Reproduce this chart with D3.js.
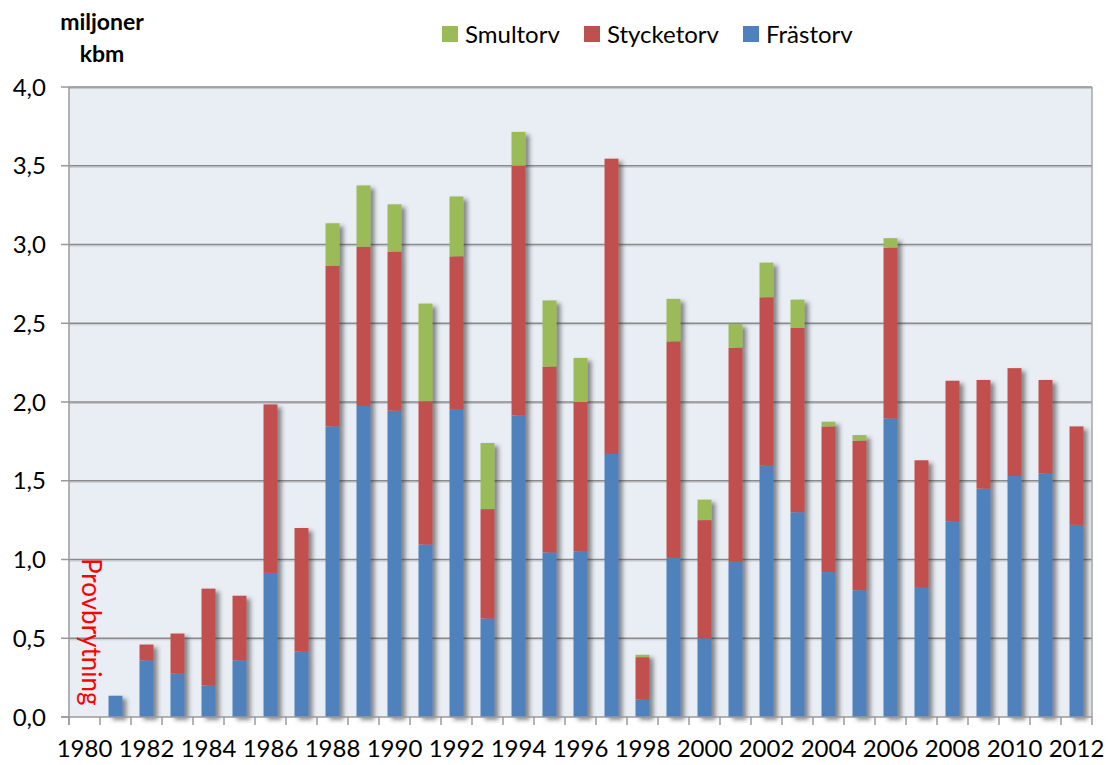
<!DOCTYPE html>
<html>
<head>
  <meta charset="UTF-8">
  <title>Torvproduktion</title>
  <script src="https://d3js.org/d3.v7.min.js"></script>
  <style>
    body { margin: 0; background: #fff; }
    svg { display: block; font-family: Lato, "Noto Sans", sans-serif; }
    .ytick text, .xlab text { font-size: 24px; fill: #000; }
    .legend text { font-size: 24px; fill: #000; }
  </style>
</head>
<body>
  <svg id="chart" width="1108" height="765"></svg>

  <script>
    // data, miljoner kbm
    var years = d3.range(1980, 2013);
    var frastorv = [0, 0.135, 0.36, 0.275, 0.20, 0.36, 0.915, 0.415, 1.845, 1.975, 1.945, 1.095, 1.955, 0.625,
      1.915, 1.045, 1.05, 1.67, 0.11, 1.01, 0.50, 0.985, 1.595, 1.30, 0.92, 0.805, 1.895, 0.82, 1.24, 1.45,
      1.53, 1.545, 1.22];
    var stycketorv = [0, 0, 0.10, 0.255, 0.615, 0.41, 1.07, 0.785, 1.02, 1.01, 1.01, 0.91, 0.97, 0.695,
      1.585, 1.18, 0.95, 1.875, 0.27, 1.375, 0.75, 1.36, 1.07, 1.17, 0.925, 0.95, 1.085, 0.81, 0.895, 0.69,
      0.685, 0.595, 0.625];
    var smultorv = [0, 0, 0, 0, 0, 0, 0, 0, 0.27, 0.39, 0.30, 0.62, 0.38, 0.42,
      0.215, 0.42, 0.28, 0, 0.015, 0.27, 0.13, 0.15, 0.22, 0.18, 0.03, 0.035, 0.06, 0, 0, 0,
      0, 0, 0];
    var yTicks = [0, 0.5, 1, 1.5, 2, 2.5, 3, 3.5, 4];
    var xLabels = years.filter(function(d) { return d % 2 === 0; });

    var seriesNames = ["Frästorv", "Stycketorv", "Smultorv"];
    var colors = { "Frästorv": "#4F81BD", "Stycketorv": "#C0504D", "Smultorv": "#9BBB59" };

    var table = years.map(function(y, i) {
      return { year: y, "Frästorv": frastorv[i], "Stycketorv": stycketorv[i], "Smultorv": smultorv[i] };
    });

    var pLeft = 69, pRight = 1092, pTop = 87, pBottom = 717;

    var x = d3.scaleBand()
              .domain(years)
              .range([pLeft, pRight])
              .paddingInner(0.55)
              .paddingOuter(0.275);

    var y = d3.scaleLinear()
              .domain([0, 4])
              .range([pBottom, pTop]);

    var svg = d3.select("#chart");

    var defs = svg.append("defs");
    var f = defs.append("filter").attr("id", "shadow")
                .attr("x", "-50%").attr("y", "-10%").attr("width", "200%").attr("height", "120%");
    f.append("feDropShadow")
     .attr("dx", 4).attr("dy", 3).attr("stdDeviation", 2.2)
     .attr("flood-color", "#333").attr("flood-opacity", 0.55);

    // plot area
    svg.append("rect")
       .attr("x", pLeft).attr("y", pTop)
       .attr("width", pRight - pLeft).attr("height", pBottom - pTop)
       .attr("fill", "#E9EDF4");

    // gridlines
    var grid = svg.append("g");
    grid.selectAll("line.sh")
        .data(yTicks.filter(function(d) { return d > 0; }))
        .enter().append("line")
        .attr("x1", pLeft).attr("x2", pRight)
        .attr("y1", function(d) { return y(d) + 1.5; })
        .attr("y2", function(d) { return y(d) + 1.5; })
        .attr("stroke", "#C4C8CE").attr("stroke-width", 1);
    grid.selectAll("line.g")
        .data(yTicks.filter(function(d) { return d > 0; }))
        .enter().append("line")
        .attr("x1", pLeft).attr("x2", pRight)
        .attr("y1", function(d) { return y(d); })
        .attr("y2", function(d) { return y(d); })
        .attr("stroke", "#8A8A8A").attr("stroke-width", 1.6);

    // right border
    svg.append("line")
       .attr("x1", pRight).attr("x2", pRight)
       .attr("y1", pTop).attr("y2", pBottom)
       .attr("stroke", "#A6A6A6").attr("stroke-width", 1.5);

    // bars
    var stack = d3.stack().keys(seriesNames);
    var layers = stack(table);

    var bars = svg.append("g").attr("filter", "url(#shadow)");
    bars.selectAll("g")
        .data(layers)
        .enter()
        .append("g")
        .attr("fill", function(d) { return colors[d.key]; })
        .selectAll("rect")
        .data(function(d) { return d; })
        .enter()
        .append("rect")
        .attr("x", function(d) { return x(d.data.year); })
        .attr("y", function(d) { return y(d[1]); })
        .attr("width", x.bandwidth())
        .attr("height", function(d) { return y(d[0]) - y(d[1]); });

    // axes
    var axisColor = "#9A9A9A";
    svg.append("line")
       .attr("x1", pLeft).attr("x2", pLeft)
       .attr("y1", pTop).attr("y2", pBottom + 8)
       .attr("stroke", axisColor).attr("stroke-width", 1.5);
    svg.append("line")
       .attr("x1", pLeft - 8).attr("x2", pRight)
       .attr("y1", pBottom).attr("y2", pBottom)
       .attr("stroke", axisColor).attr("stroke-width", 1.5);

    var yt = svg.append("g").attr("class", "ytick");
    yt.selectAll("line")
      .data(yTicks)
      .enter().append("line")
      .attr("x1", pLeft - 8).attr("x2", pLeft)
      .attr("y1", function(d) { return y(d); })
      .attr("y2", function(d) { return y(d); })
      .attr("stroke", axisColor).attr("stroke-width", 1.5);
    yt.selectAll("text")
      .data(yTicks)
      .enter().append("text")
      .attr("x", 46)
      .attr("y", function(d) { return y(d); })
      .attr("dy", "0.36em")
      .attr("text-anchor", "end")
      .text(function(d) { return d3.format(".1f")(d).replace(".", ","); });

    // x ticks at band boundaries
    var gap = (x.step() - x.bandwidth()) / 2;
    var bounds = years.map(function(d) { return x(d) - gap; }).concat([x(years[years.length - 1]) + x.bandwidth() + gap]);
    svg.append("g").selectAll("line")
       .data(bounds)
       .enter().append("line")
       .attr("x1", function(d) { return d; }).attr("x2", function(d) { return d; })
       .attr("y1", pBottom).attr("y2", pBottom + 8)
       .attr("stroke", axisColor).attr("stroke-width", 1.5);

    svg.append("g").attr("class", "xlab").selectAll("text")
       .data(xLabels)
       .enter().append("text")
       .attr("x", function(d) { return x(d) + x.bandwidth() / 2; })
       .attr("y", 757)
       .attr("text-anchor", "middle")
       .text(function(d) { return d; });

    // unit title
    svg.append("text")
       .attr("x", 102).attr("y", 30)
       .attr("text-anchor", "middle")
       .attr("font-weight", "bold").attr("font-size", 23)
       .text("miljoner");
    svg.append("text")
       .attr("x", 102).attr("y", 62)
       .attr("text-anchor", "middle")
       .attr("font-weight", "bold").attr("font-size", 23)
       .text("kbm");

    // legend
    var legendItems = [
      { name: "Smultorv", x: 442 },
      { name: "Stycketorv", x: 584 },
      { name: "Frästorv", x: 743 }
    ];
    var lg = svg.append("g").attr("class", "legend");
    var li = lg.selectAll("g")
               .data(legendItems)
               .enter().append("g")
               .attr("transform", function(d) { return "translate(" + d.x + ",26)"; });
    li.append("rect")
      .attr("width", 16).attr("height", 16)
      .attr("fill", function(d) { return colors[d.name]; });
    li.append("text")
      .attr("x", 23).attr("y", 8)
      .attr("dy", "0.36em")
      .text(function(d) { return d.name; });

    // annotation
    svg.append("text")
       .attr("transform", "translate(" + (x(1980) + 4) + ",558) rotate(90)")
       .attr("fill", "#FF0000")
       .attr("font-size", 26)
       .text("Provbrytning");
  </script>
</body>
</html>
